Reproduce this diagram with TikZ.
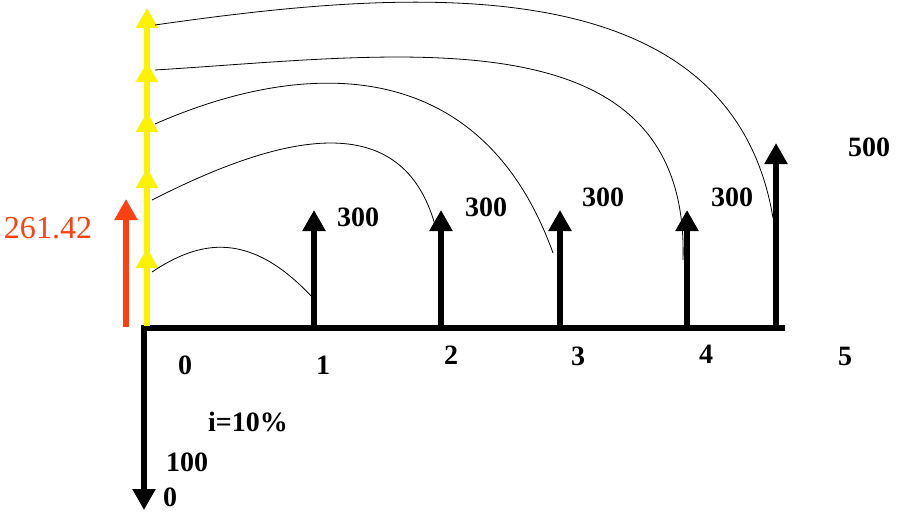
\documentclass[tikz,border=0pt]{standalone}
\usepackage{fontspec}
\setmainfont{Liberation Serif}
\usetikzlibrary{arrows.meta}
\definecolor{pvred}{HTML}{FF4010}
\begin{document}
\begin{tikzpicture}[x=1pt,y=-1pt,
  flow/.style={line width=6.5pt,-{Triangle[width=22pt,length=21pt]}},
  pvstep/.style={line width=6.5pt,yellow,-{Triangle[width=21pt,length=20pt]}},
  link/.style={line width=0.8pt},
  amt/.style={inner sep=0pt,font=\bfseries\fontsize{28}{30}\selectfont}]
\useasboundingbox (0,0) rectangle (912,527);
% time line
\coordinate (t0) at (144,328);
\coordinate (t1) at (314,328);
\coordinate (t2) at (441,328);
\coordinate (t3) at (560,328);
\coordinate (t4) at (687,328);
\coordinate (t5) at (776,328);
\coordinate (tend) at (785,328);
\coordinate (out) at (144,510);
\draw[line width=6.5pt] (141,328) -- (tend);
\draw[flow] (144,325) -- (out);
% receipts
\coordinate (r1) at (314,210);
\coordinate (r2) at (441,210);
\coordinate (r3) at (560,210);
\coordinate (r4) at (687,210);
\coordinate (r5) at (776,143);
\draw[flow] (t1) -- (r1);
\draw[flow] (t2) -- (r2);
\draw[flow] (t3) -- (r3);
\draw[flow] (t4) -- (r4);
\draw[flow] (t5) -- (r5);
% discounted values
\coordinate (y0) at (147,326);
\coordinate (y1) at (147,248);
\coordinate (y2) at (147,168);
\coordinate (y3) at (147,112);
\coordinate (y4) at (147,62);
\coordinate (y5) at (147,8);
\draw[pvstep] (y0) -- (y5);
\draw[pvstep] (y0) -- (y1);
\draw[pvstep] (y1) -- (y2);
\draw[pvstep] (y2) -- (y3);
\draw[pvstep] (y3) -- (y4);
\draw[flow,pvred] (126,327) -- (126,199);
\node[text=pvred,inner sep=0pt,font=\fontsize{32}{34}\selectfont] (pv) at (48,228) {261.42};
% links from each receipt back to time 0
\coordinate (s1) at (152,272);
\coordinate (s2) at (152,200);
\coordinate (s3) at (155,124);
\coordinate (s4) at (155,70);
\coordinate (s5) at (155,25);
\coordinate (e1) at (313,298);
\coordinate (e2) at (435,225);
\coordinate (e3) at (553,253);
\coordinate (e4) at (683,260);
\coordinate (e5) at (773,218);
\draw[link] (s1) .. controls (200,240) and (250,230) .. (e1);
\draw[link] (s2) .. controls (270,140) and (400,100) .. (e2);
\draw[link] (s3) .. controls (300,60) and (480,50) .. (e3);
\draw[link] (s4) .. controls (400,55) and (690,10) .. (e4);
\draw[link] (s5) .. controls (400,-10) and (730,-40) .. (e5);
% amounts
\node[amt] (a1) at (358,217) {300};
\node[amt] (a2) at (486,207) {300};
\node[amt] (a3) at (603,197) {300};
\node[amt] (a4) at (732,197) {300};
\node[amt] (a5) at (869,147) {500};
\node[amt] (a0) at (187,462) {100};
\node[amt] (a00) at (170,497) {0};
\node[amt] (rate) at (248,422) {i=10\%};
% periods
\node[amt] (n0) at (185,365) {0};
\node[amt] (n1) at (323,365) {1};
\node[amt] (n2) at (451,355) {2};
\node[amt] (n3) at (578,356) {3};
\node[amt] (n4) at (706,354) {4};
\node[amt] (n5) at (845,356) {5};
\end{tikzpicture}
\end{document}
